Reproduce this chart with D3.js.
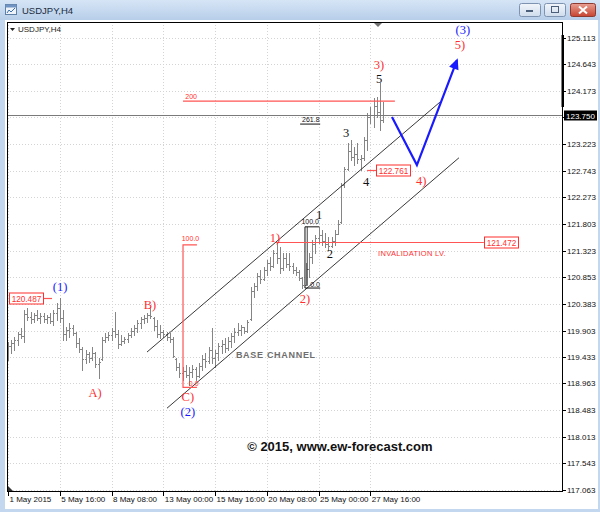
<!DOCTYPE html>
<html><head><meta charset="utf-8">
<script src="https://cdn.jsdelivr.net/npm/d3@7"></script>
<style>
html,body{margin:0;padding:0;background:#c3d7ef;}
svg{display:block;}
</style></head><body>
<svg id="c" width="600" height="512"></svg>
<script>
// ---------- DATA (USDJPY H4 bars) ----------
const highs=[119.70,119.73,119.79,119.88,119.95,120.27,120.30,120.23,120.22,120.27,
 120.22,120.22,120.18,120.22,120.27,120.39,120.487,120.27,119.97,120.04,
 120.00,119.88,119.77,119.61,119.56,119.52,119.61,119.52,119.41,119.79,
 119.86,119.88,119.95,120.23,119.91,119.82,119.79,119.86,119.95,120.00,
 120.09,120.14,120.18,120.22,120.32,120.14,120.09,120.00,119.91,119.88,
 119.86,119.79,119.41,119.33,119.25,119.29,119.25,119.29,119.25,119.33,
 119.47,119.50,119.61,119.95,119.56,119.68,119.73,119.77,119.79,119.86,
 119.95,120.04,120.00,119.97,120.09,120.68,120.75,120.93,120.98,121.03,
 121.16,121.21,121.34,121.472,121.39,121.28,121.28,121.28,121.11,121.03,
 120.98,120.86,121.11,121.28,121.52,121.61,121.75,121.69,121.64,121.57,
 121.57,121.69,121.87,122.53,122.82,123.24,123.30,123.17,123.24,123.03,
 123.35,123.78,123.88,124.04,124.06,124.31,123.97];
const lows=[119.38,119.50,119.56,119.64,119.77,119.70,120.09,120.04,120.05,120.09,
 120.04,120.05,120.04,120.04,120.00,120.09,120.05,119.73,119.73,119.79,
 119.82,119.61,119.52,119.20,119.33,119.34,119.38,119.25,119.06,119.38,
 119.70,119.73,119.73,119.79,119.59,119.64,119.68,119.70,119.79,119.82,
 119.88,119.95,120.04,120.05,120.13,119.91,119.79,119.77,119.79,119.73,
 119.70,119.43,119.20,119.07,119.02,119.07,118.93,119.07,119.02,119.07,
 119.20,119.25,119.33,119.33,119.25,119.38,119.50,119.52,119.56,119.61,
 119.70,119.82,119.82,119.86,119.88,120.09,120.50,120.62,120.75,120.80,
 120.89,120.98,121.03,121.11,120.93,120.98,121.03,120.98,120.93,120.89,
 120.80,120.66,120.71,120.86,121.11,121.28,121.46,121.43,121.39,121.34,
 121.39,121.43,121.64,121.82,122.46,122.76,122.94,122.85,122.89,122.761,
 122.94,123.12,123.60,123.53,123.71,123.47,123.62];
const opens=[119.45,119.62,119.68,119.74,119.84,119.80,120.20,120.15,120.10,120.18,
 120.12,120.16,120.10,120.14,120.08,120.22,120.30,120.12,119.85,119.92,
 119.95,119.86,119.68,119.58,119.40,119.48,119.42,119.50,119.30,119.40,
 119.74,119.78,119.82,119.90,119.85,119.66,119.72,119.75,119.82,119.90,
 119.95,120.04,120.10,120.12,120.18,120.12,119.98,119.85,119.88,119.84,
 119.78,119.76,119.40,119.26,119.15,119.18,119.12,119.16,119.22,119.10,
 119.28,119.40,119.36,119.55,119.42,119.50,119.62,119.66,119.60,119.72,
 119.80,119.88,119.92,119.96,119.90,120.10,120.60,120.70,120.88,120.82,
 120.98,121.10,121.05,121.28,121.20,121.02,121.20,121.08,121.05,120.98,
 120.94,120.84,120.72,121.00,121.22,121.45,121.55,121.60,121.50,121.45,
 121.40,121.50,121.62,121.84,122.50,122.78,123.10,123.00,123.05,122.95,
 122.98,123.30,123.70,123.75,123.90,123.80,123.65];
const closes=[119.62,119.68,119.74,119.84,119.80,120.20,120.15,120.10,120.18,120.12,
 120.16,120.10,120.14,120.08,120.22,120.30,120.12,119.85,119.92,119.95,
 119.86,119.68,119.58,119.40,119.48,119.42,119.50,119.30,119.35,119.74,
 119.78,119.82,119.90,119.85,119.66,119.72,119.75,119.82,119.90,119.95,
 120.04,120.10,120.12,120.18,120.16,119.98,119.85,119.88,119.84,119.78,
 119.76,119.45,119.26,119.15,119.18,119.12,119.16,119.22,119.10,119.28,
 119.40,119.36,119.55,119.42,119.50,119.62,119.66,119.60,119.72,119.80,
 119.88,119.92,119.96,119.90,120.05,120.60,120.70,120.88,120.82,120.98,
 121.10,121.05,121.28,121.20,121.02,121.20,121.08,121.05,120.98,120.94,
 120.84,120.72,121.00,121.22,121.45,121.55,121.60,121.50,121.45,121.40,
 121.50,121.62,121.80,122.50,122.78,123.10,123.00,123.05,122.95,122.98,
 123.30,123.70,123.75,123.90,123.80,123.65,123.75];

const priceTicks=[125.113,124.643,124.173,123.703,123.223,122.743,122.273,121.803,121.323,
 120.853,120.383,119.903,119.433,118.963,118.483,118.013,117.543,117.063];
const timeTickIdx=[0,16,32,48,64,80,96,112];
const timeTickLabels=["1 May 2015","5 May 16:00","8 May 08:00","13 May 00:00","15 May 16:00","20 May 08:00","25 May 00:00","27 May 16:00"];
const lastPrice=123.750;
const symbol="USDJPY,H4";

// annotation geometry in (bar index, price)
const channelUpper=[[42.97,119.52],[133.5,123.97]];
const channelLower=[[49.15,118.52],[139.4,122.98]];
const forecastPath=[[118.7,123.706],[126.4,122.85],[138.8,124.72]];
const redLabels=[["A)",26.9,118.79],["B)",43.9,120.36],["C)",55.6,118.73],["1)",82.5,121.55],
 ["2)",91.8,120.48],["3)",114.7,124.63],["4)",127.7,122.57],["5)",139.7,124.99]];
const blueLabels=[["(1)",16.1,120.69],["(2)",55.6,118.46],["(3)",140.6,125.26]];
const blackLabels=[["1",96.2,121.96],["2",99.5,121.27],["3",104.5,123.42],["4",110.7,122.55],["5",114.7,124.39]];
const priceBoxes=[{v:120.487,from:13.6,to:10.8,left:0.3},{v:122.761,from:111,to:113.75,left:113.75},{v:121.472,from:82.8,to:147.1,left:147.1}];

// ---------- SETUP ----------
const svg=d3.select('#c');
const X0=7,X1=562,Y0=22,Y1=491;
const x=d3.scaleLinear().domain([0,116]).range([8,8+116*3.235]);
const y=d3.scaleLinear().domain([117.063,125.113]).range([490,38]);
const SANS="'Liberation Sans',Arial,sans-serif", SERIF="'Liberation Serif','Times New Roman',serif";
const RED='#ff2f2f', LRED='#ff5555', BLUE='#1a1aff';

// window chrome
const defs=svg.append('defs');
const tb=defs.append('linearGradient').attr('id','tb').attr('x1',0).attr('y1',0).attr('x2',0).attr('y2',1);
tb.append('stop').attr('offset',0).attr('stop-color','#d6e5f6');
tb.append('stop').attr('offset',1).attr('stop-color','#b7cee9');
const cb=defs.append('linearGradient').attr('id','cb').attr('x1',0).attr('y1',0).attr('x2',0).attr('y2',1);
cb.append('stop').attr('offset',0).attr('stop-color','#e8a093');
cb.append('stop').attr('offset',1).attr('stop-color','#c7432f');
const bb=defs.append('linearGradient').attr('id','bb').attr('x1',0).attr('y1',0).attr('x2',0).attr('y2',1);
bb.append('stop').attr('offset',0).attr('stop-color','#f2f6fb');
bb.append('stop').attr('offset',1).attr('stop-color','#cfdcec');
defs.append('clipPath').attr('id','plot').append('rect').attr('x',X0).attr('y',Y0).attr('width',X1-X0).attr('height',Y1-Y0);

svg.append('rect').attr('width',600).attr('height',512).attr('fill','#c3d7ef');
svg.append('rect').attr('width',600).attr('height',20).attr('fill','url(#tb)');
svg.append('rect').attr('x',5).attr('y',20).attr('width',593).attr('height',489).attr('fill','#fff');
// icon
const ic=svg.append('g');
ic.append('rect').attr('x',5.5).attr('y',4.5).attr('width',11).attr('height',10).attr('fill','#eef3fa').attr('stroke','#5f7fa6');
ic.append('rect').attr('x',5.5).attr('y',4.5).attr('width',11).attr('height',3).attr('fill','#6f93c2');
ic.append('path').attr('d','M7,13 L9,10 L11,12 L15,8').attr('fill','none').attr('stroke','#3a6fb0');
svg.append('text').attr('x',22).attr('y',14).attr('font-family',SANS).attr('font-size',9.5).attr('fill','#1b2b40').text(symbol);
// buttons
[[519,21],[544,21]].forEach(([bx,bw])=>{
  svg.append('rect').attr('x',bx+0.5).attr('y',3.5).attr('width',bw).attr('height',13).attr('rx',2).attr('fill','url(#bb)').attr('stroke','#7d93b0');
});
svg.append('rect').attr('x',526).attr('y',10).attr('width',7).attr('height',2).attr('fill','#4b5f7a');
svg.append('rect').attr('x',551.5).attr('y',6.5).attr('width',7).attr('height',6).attr('fill','none').attr('stroke','#4b5f7a');
svg.append('rect').attr('x',570.5).attr('y',3.5).attr('width',25).attr('height',13).attr('rx',2).attr('fill','url(#cb)').attr('stroke','#8d3b30');
svg.append('path').attr('d','M579,6.5 L587,13.5 M587,6.5 L579,13.5').attr('stroke','#fff').attr('stroke-width',2);

// grid
const grid=svg.append('g').attr('stroke','#d4d4d4').attr('stroke-dasharray','1,2').attr('shape-rendering','crispEdges');
grid.selectAll('.gh').data(priceTicks).join('line').attr('x1',X0).attr('x2',X1)
  .attr('y1',d=>Math.round(y(d))+0.5).attr('y2',d=>Math.round(y(d))+0.5);
grid.selectAll('.gv').data(timeTickIdx).join('line').attr('y1',Y0).attr('y2',Y1)
  .attr('x1',d=>Math.round(x(d))+0.5).attr('x2',d=>Math.round(x(d))+0.5);

// price bars
const bars=highs.map((h,i)=>({i,h,l:lows[i],o:opens[i],c:closes[i]}));
const bg=svg.append('g').attr('stroke','#858585').attr('stroke-width',1).attr('shape-rendering','crispEdges');
const bx=d=>Math.round(x(d.i))+0.5;
bg.selectAll('.hl').data(bars).join('line').attr('x1',bx).attr('x2',bx).attr('y1',d=>y(d.h)).attr('y2',d=>y(d.l)+1);
bg.selectAll('.op').data(bars).join('line').attr('x1',d=>bx(d)-1.5).attr('x2',d=>bx(d)).attr('y1',d=>Math.round(y(d.o))+0.5).attr('y2',d=>Math.round(y(d.o))+0.5);
bg.selectAll('.cl').data(bars).join('line').attr('x1',d=>bx(d)).attr('x2',d=>bx(d)+1.5).attr('y1',d=>Math.round(y(d.c))+0.5).attr('y2',d=>Math.round(y(d.c))+0.5);

const ann=svg.append('g').attr('clip-path','url(#plot)');
const line=d3.line().x(d=>x(d[0])).y(d=>y(d[1]));
// current price line
ann.append('line').attr('x1',X0).attr('x2',X1).attr('y1',Math.round(y(lastPrice))+0.5).attr('y2',Math.round(y(lastPrice))+0.5).attr('stroke','#7a7a7a').attr('shape-rendering','crispEdges');
// channels
[channelUpper,channelLower].forEach(c=>ann.append('path').attr('d',line(c)).attr('fill','none').attr('stroke','#222').attr('stroke-width',0.9));

// red fib (C -> 1)
const fr=ann.append('g').attr('stroke',LRED).attr('stroke-width',1.2).attr('fill','none');
fr.append('path').attr('d',line([[58.4,121.43],[54.1,121.43],[54.1,118.89],[58.4,118.89]]));
fr.append('path').attr('d',line([[54.1,123.99],[119.6,123.99]]));
ann.append('text').attr('x',x(53.7)).attr('y',y(121.50)).attr('font-family',SANS).attr('font-size',7).attr('fill',RED).text('100.0');
ann.append('text').attr('x',x(55.9)).attr('y',y(118.92)).attr('font-family',SANS).attr('font-size',7).attr('fill',RED).text('0.0');
ann.append('text').attr('x',x(54.8)).attr('y',y(124.03)).attr('font-family',SANS).attr('font-size',7).attr('fill',RED).text('200');

// black fib (2 -> 1)
const fb=ann.append('g').attr('stroke','#111').attr('stroke-width',1).attr('fill','none');
fb.append('path').attr('d',line([[96.2,121.75],[91.8,121.75],[91.8,120.66],[96.5,120.66]]));
fb.append('path').attr('d',line([[92.5,121.75],[92.5,120.70]])).attr('stroke-width',0.8);
fb.append('path').attr('d',line([[90.3,123.58],[96.5,123.58]]));
ann.append('text').attr('x',x(90.7)).attr('y',y(121.80)).attr('font-family',SANS).attr('font-size',7).attr('fill','#111').text('100.0');
ann.append('text').attr('x',x(93.4)).attr('y',y(120.68)).attr('font-family',SANS).attr('font-size',7).attr('fill','#111').text('0.0');
ann.append('text').attr('x',x(90.9)).attr('y',y(123.62)).attr('font-family',SANS).attr('font-size',7).attr('fill','#111').text('261.8');

// price boxes
priceBoxes.forEach(b=>{
  const yy=Math.round(y(b.v))+0.5;
  ann.append('line').attr('x1',x(b.from)).attr('x2',x(b.to)).attr('y1',yy).attr('y2',yy).attr('stroke',LRED).attr('stroke-width',1.2);
  const lx=Math.round(x(b.left))+0.5;
  ann.append('rect').attr('x',lx).attr('y',yy-5.5).attr('width',34).attr('height',11).attr('fill','#fff').attr('stroke',RED);
  ann.append('text').attr('x',lx+17).attr('y',yy+3).attr('text-anchor','middle').attr('font-family',SANS).attr('font-size',8.2).attr('fill',RED).text(b.v.toFixed(3));
});
ann.append('text').attr('x',x(114.4)).attr('y',y(121.28)+3).attr('font-family',SANS).attr('font-size',7.5).attr('letter-spacing',0.3).attr('fill',RED).text('INVALIDATION LV.');

// forecast path + arrow
ann.append('path').attr('d',line(forecastPath)).attr('fill','none').attr('stroke',BLUE).attr('stroke-width',2.2).attr('stroke-linejoin','miter');
{
  const a=forecastPath[1], b=forecastPath[2];
  const ax=x(a[0]),ay=y(a[1]),bx2=x(b[0]),by=y(b[1]);
  const ang=Math.atan2(by-ay,bx2-ax), L=11, Wd=5;
  const tx=bx2+Math.cos(ang)*2, ty=by+Math.sin(ang)*2;
  const p1=[tx-L*Math.cos(ang)+Wd*Math.sin(ang), ty-L*Math.sin(ang)-Wd*Math.cos(ang)];
  const p2=[tx-L*Math.cos(ang)-Wd*Math.sin(ang), ty-L*Math.sin(ang)+Wd*Math.cos(ang)];
  ann.append('path').attr('d',`M${tx},${ty}L${p1[0]},${p1[1]}L${p2[0]},${p2[1]}Z`).attr('fill',BLUE);
}

// wave labels
const lab=(arr,col)=>ann.selectAll(null).data(arr).join('text').attr('x',d=>x(d[1])).attr('y',d=>y(d[2]))
  .attr('dy','0.35em').attr('text-anchor','middle').attr('font-family',SERIF).attr('font-size',12.5).attr('fill',col).text(d=>d[0]);
lab(redLabels,RED); lab(blueLabels,BLUE); lab(blackLabels,'#111');

ann.append('text').attr('x',x(82.8)).attr('y',y(119.467)).attr('dy','0.35em').attr('text-anchor','middle')
  .attr('font-family',SANS).attr('font-weight','bold').attr('font-size',9).attr('letter-spacing',0.7).attr('fill','#6e6e6e').text('BASE CHANNEL');
ann.append('text').attr('x',x(102.6)).attr('y',y(117.847)).attr('dy','0.35em').attr('text-anchor','middle')
  .attr('font-family',SANS).attr('font-weight','bold').attr('font-size',13).attr('fill','#111').text('\u00a9 2015, www.ew-forecast.com');

// chart label & markers
ann.append('path').attr('d','M10,28 L15,28 L12.5,31 Z').attr('fill','#222');
ann.append('text').attr('x',18).attr('y',32).attr('font-family',SANS).attr('font-size',8).attr('fill','#222').text(symbol);
ann.append('path').attr('d','M374,23 L382,23 L378,27 Z').attr('fill','#707070');
ann.append('path').attr('d','M8,486 L8,491 L13,491 Z').attr('fill','#333');

// frame
svg.append('rect').attr('x',X0+0.5).attr('y',Y0+0.5).attr('width',X1-X0).attr('height',Y1-Y0).attr('fill','none').attr('stroke','#000').attr('shape-rendering','crispEdges');
svg.append('rect').attr('x',X1-0.5).attr('y',35).attr('width',2.5).attr('height',72).attr('fill','#000');

// price axis (the 123.703 level sits under the last-price box, as in the terminal)
const pa=svg.append('g');
pa.selectAll('line').data(priceTicks).join('line').attr('x1',X1+1).attr('x2',X1+4)
  .attr('y1',d=>Math.round(y(d))+0.5).attr('y2',d=>Math.round(y(d))+0.5).attr('stroke','#000').attr('shape-rendering','crispEdges');
pa.selectAll('text').data(priceTicks.filter(d=>Math.abs(y(d)-y(lastPrice))>8)).join('text').attr('x',567).attr('y',d=>y(d)+3)
  .attr('font-family',SANS).attr('font-size',8).attr('fill','#111').text(d=>d.toFixed(3));
const ly=Math.round(y(lastPrice));
svg.append('rect').attr('x',564).attr('y',ly-4.5).attr('width',33).attr('height',10).attr('fill','#000');
svg.append('text').attr('x',566).attr('y',ly+3.5).attr('font-family',SANS).attr('font-size',8).attr('fill','#fff').text(lastPrice.toFixed(3));

// time axis
const ta=svg.append('g');
ta.selectAll('line').data(timeTickIdx).join('line').attr('x1',d=>Math.round(x(d))+0.5).attr('x2',d=>Math.round(x(d))+0.5)
  .attr('y1',Y1).attr('y2',Y1+5).attr('stroke','#000').attr('shape-rendering','crispEdges');
ta.selectAll('text').data(timeTickIdx).join('text').attr('x',d=>x(d)+1.5).attr('y',502)
  .attr('font-family',SANS).attr('font-size',8).attr('fill','#111').text((d,k)=>timeTickLabels[k]);
</script>
</body></html>
